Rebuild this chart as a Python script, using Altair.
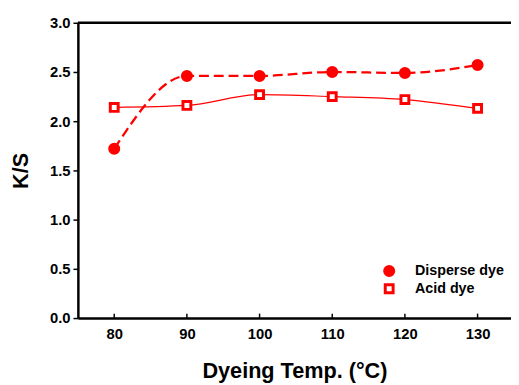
import altair as alt
import pandas as pd

temps = [80, 90, 100, 110, 120, 130]
disperse = [1.72, 2.46, 2.46, 2.50, 2.49, 2.57]
acid = [2.14, 2.16, 2.27, 2.25, 2.22, 2.13]
series = ["Disperse dye", "Acid dye"]
x_ticks = [80, 90, 100, 110, 120, 130]
y_ticks = [0.0, 0.5, 1.0, 1.5, 2.0, 2.5, 3.0]

df = pd.DataFrame({
    "temp": temps * 2,
    "ks": disperse + acid,
    "series": [series[0]] * len(temps) + [series[1]] * len(temps),
})
ticks_df = pd.DataFrame({"temp": x_ticks, "ks": [0.0] * len(x_ticks), "ks2": [0.045] * len(x_ticks)})
top_df = pd.DataFrame({"ks": [3.0]})

FONT = "Liberation Sans"
RED = "#ff0000"
xs = alt.Scale(domain=[75, 134.6], nice=False, zero=False)
ys = alt.Scale(domain=[0, 3], nice=False, zero=False)

x_axis = alt.Axis(values=x_ticks, title="Dyeing Temp. (°C)", ticks=False,
                  labelPadding=9, titlePadding=19, grid=False,
                  domainColor="black", domainWidth=2.5)
y_axis = alt.Axis(values=y_ticks, format=".1f", title="K/S", tickSize=5,
                  tickColor="black", tickWidth=1.5, labelPadding=3,
                  titlePadding=17, grid=False,
                  domainColor="black", domainWidth=2.5)
X = alt.X("temp:Q", scale=xs, axis=x_axis)
Y = alt.Y("ks:Q", scale=ys, axis=y_axis)

base = alt.Chart(df)

line_disp = base.transform_filter(alt.datum.series == series[0]).mark_line(
    interpolate="monotone", strokeDash=[10, 5], strokeWidth=2.3, color=RED
).encode(x=X, y=Y)

line_acid = base.transform_filter(alt.datum.series == series[1]).mark_line(
    interpolate="monotone", strokeWidth=1.2, color=RED
).encode(x=X, y=Y)

leg = alt.Legend(title=None, orient="none", legendX=309, legendY=245,
                 labelFont=FONT, labelFontSize=14.5, labelFontWeight="bold",
                 labelColor="black", labelOffset=19, rowPadding=-4,
                 symbolStrokeWidth=3, padding=0)

points = base.mark_point(stroke=RED, strokeWidth=3, opacity=1).encode(
    x=X, y=Y,
    shape=alt.Shape("series:N", scale=alt.Scale(domain=series, range=["circle", "square"]),
                    legend=leg),
    fill=alt.Fill("series:N", scale=alt.Scale(domain=series, range=[RED, "white"]),
                  legend=leg),
    size=alt.Size("series:N", scale=alt.Scale(domain=series, range=[85, 64]), legend=leg),
)

top_rule = alt.Chart(top_df).mark_rule(color="black", strokeWidth=2.5).encode(y=Y)

in_ticks = alt.Chart(ticks_df).mark_rule(color="black", strokeWidth=1.5).encode(
    x=X, y=Y, y2="ks2:Q",
)

chart = alt.layer(line_disp, line_acid, in_ticks, top_rule, points).properties(
    width=440, height=300,
    padding={"left": 71, "top": 12, "right": 0, "bottom": 65},
    autosize="none",
).configure_view(stroke=None).configure_axis(
    labelFont=FONT, titleFont=FONT, labelFontSize=15, labelFontWeight="bold",
    titleFontSize=22, titleFontWeight="bold", labelColor="black", titleColor="black",
)

chart.save("out.html", embed_options={"renderer": "svg", "actions": False})
